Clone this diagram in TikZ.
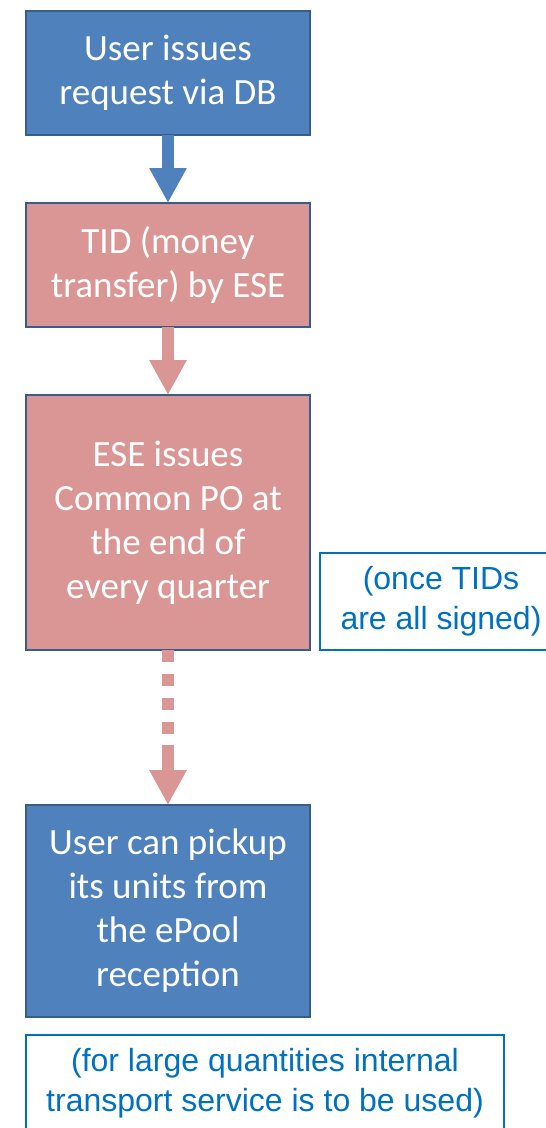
\documentclass[tikz,border=0pt]{standalone}
\usepackage{fontspec}
\setmainfont{Carlito}
\newfontfamily\notefont{Liberation Sans}
\usetikzlibrary{arrows.meta, positioning}
\definecolor{flowBlue}{HTML}{4F81BD}
\definecolor{flowPink}{HTML}{D99694}
\definecolor{flowEdge}{HTML}{385D8A}
\definecolor{noteBlue}{HTML}{0070C0}
\tikzset{
    stepbox/.style={draw=flowEdge, line width=2pt, text=white, align=center,
        minimum width=284pt, inner sep=0pt, outer sep=0pt, font=\fontsize{37}{44}\selectfont},
    bluebox/.style={stepbox, fill=flowBlue},
    pinkbox/.style={stepbox, fill=flowPink},
    notebox/.style={draw=noteBlue, line width=1.5pt, text=noteBlue, align=center,
        inner sep=0pt, outer sep=0pt, minimum height=97pt, font=\notefont\fontsize{32}{40}\selectfont},
    flow/.style={line width=12pt, -{Triangle[length=35pt, width=35pt]}}
}

\begin{document}
\begin{tikzpicture}[x=1pt, y=1pt]
    \useasboundingbox (0,0) rectangle (546,-1128);

    % Steps of the request
    \node[bluebox, minimum height=124pt] (request) at (168,-73) {User issues\\request via DB};
    \node[pinkbox, minimum height=124pt, below=68pt of request] (tid) {TID (money\\transfer) by ESE};
    \node[pinkbox, minimum height=255pt, below=68pt of tid] (commonpo) {ESE issues\\Common PO at\\the end of\\every quarter};
    \node[bluebox, minimum height=212pt, below=155pt of commonpo] (pickup) {User can pickup\\its units from\\the ePool\\reception};

    % Side notes
    \node[notebox, minimum width=242pt, anchor=south west] (signed) at ([xshift=10pt]commonpo.south east) {(once TIDs\\are all signed)};
    \node[notebox, minimum width=478pt, anchor=north west] (transport) at ([yshift=-18pt]pickup.south west) {(for large quantities internal\\transport service is to be used)};

    % Arrows between the steps
    \draw[flow, flowBlue] (request) -- (tid);
    \draw[flow, flowPink] (tid) -- (commonpo);
    \draw[flow, flowPink, dash pattern=on 12pt off 12pt on 12pt off 12pt on 12pt off 12pt on 12pt off 11pt on 40pt] (commonpo) -- (pickup);
\end{tikzpicture}
\end{document}
